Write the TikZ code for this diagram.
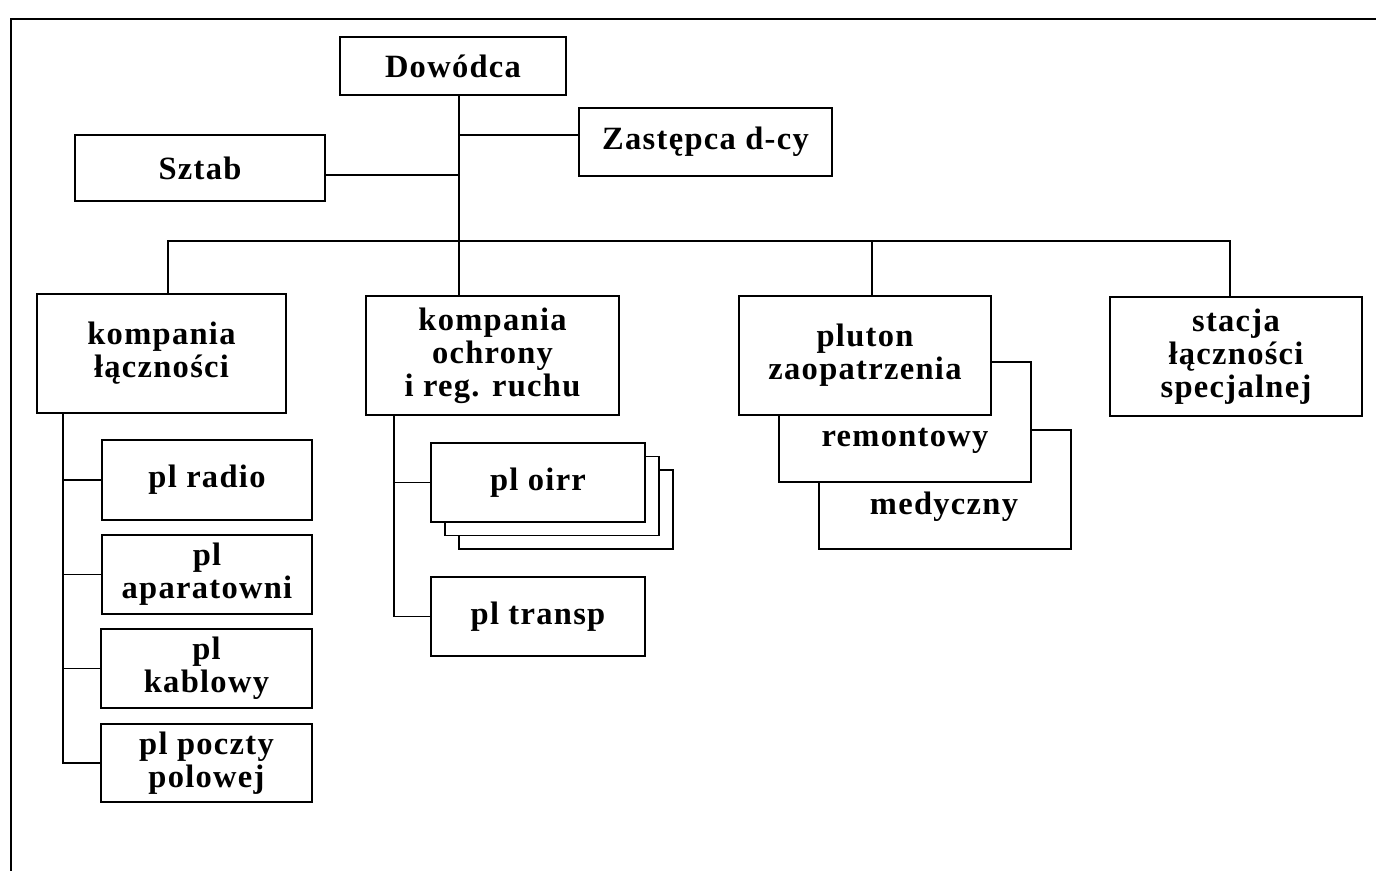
\documentclass[tikz,border=0pt]{standalone}
\usepackage{fontspec}
\setmainfont{Liberation Serif}[LetterSpace=4]
\begin{document}
\begin{tikzpicture}[x=0.02cm,y=-0.02cm,
  txt/.style={align=center, inner sep=0pt, font=\bfseries\fontsize{18.5}{18.7}\selectfont},
  box/.style={txt, draw, line width=0.7pt, fill=white},
  conn/.style={line width=0.7pt},
  frame/.style={line width=1.4pt}]
\useasboundingbox (0,0) rectangle (1376,871);
% frame of the scan
\draw[frame] (1376,19) -- (11,19) -- (11,871);

% top level
\node[box, minimum width=4.52cm, minimum height=1.16cm] (dow) at (453,66) {Dowódca};
\node[box, minimum width=5.06cm, minimum height=1.36cm] (zas) at (705.5,142) {Zastępca d-cy};
\node[box, minimum width=5.00cm, minimum height=1.32cm] (szt) at (200,168) {Sztab};

% second level
\node[box, minimum width=4.98cm, minimum height=2.38cm] (kl) at (161.5,353.5) {kompania\\łączności};
\node[box, minimum width=5.06cm, minimum height=2.38cm] (ko) at (492.5,355.5) {kompania\\ochrony\\i reg. ruchu};
\node[box, minimum width=5.04cm, minimum height=2.38cm] (med) at (945,489.5) {};
\node[box, minimum width=5.04cm, minimum height=2.40cm] (rem) at (905,422) {};
\node[box, minimum width=5.04cm, minimum height=2.38cm] (plu) at (865,355.5) {pluton\\zaopatrzenia};
\node[txt] (remt) at (905,441) {remontowy};
\node[txt] (medt) at (944,507) {medyczny};
\node[box, minimum width=5.04cm, minimum height=2.38cm] (sta) at (1236,356.5) {stacja\\łączności\\specjalnej};

% left column
\node[box, minimum width=4.20cm, minimum height=1.60cm] (rad) at (207,480) {pl radio};
\node[box, minimum width=4.20cm, minimum height=1.58cm] (apa) at (207,574.5) {pl\\aparatowni};
\node[box, minimum width=4.22cm, minimum height=1.58cm] (kab) at (206.5,668.5) {pl\\kablowy};
\node[box, minimum width=4.22cm, minimum height=1.56cm] (poc) at (206.5,763) {pl poczty\\polowej};

% middle column
\node[box, minimum width=4.28cm, minimum height=1.58cm] (oirr3) at (566,509.5) {};
\node[box, minimum width=4.28cm, minimum height=1.58cm] (oirr2) at (552,496) {};
\node[box, minimum width=4.28cm, minimum height=1.58cm] (oirr) at (538,482.5) {pl oirr};
\node[box, minimum width=4.28cm, minimum height=1.58cm] (tra) at (538,616.5) {pl transp};

% connector coordinates
\coordinate (tr) at (459,0);
\coordinate (zj) at (459,135);
\coordinate (sj) at (459,175);
\coordinate (b1) at (168,241);
\coordinate (b3) at (872,241);
\coordinate (b4) at (1230,241);
\coordinate (lc) at (63,0);
\coordinate (mc) at (394,0);

% connectors
\draw[conn] (dow.south -| tr) -- (ko.north -| tr);
\draw[conn] (zj) -- (zj -| zas.west);
\draw[conn] (sj) -- (sj -| szt.east);
\draw[conn] (b1 |- kl.north) -- (b1) -- (b4) -- (b4 |- sta.north);
\draw[conn] (b3) -- (b3 |- plu.north);

\draw[conn] (lc |- kl.south) -- (lc |- poc.west) -- (poc.west);
\draw[conn] (lc |- rad.west) -- (rad.west);
\draw[conn] (lc |- apa.west) -- (apa.west);
\draw[conn] (lc |- kab.west) -- (kab.west);

\draw[conn] (mc |- ko.south) -- (mc |- tra.west) -- (tra.west);
\draw[conn] (mc |- oirr.west) -- (oirr.west);
\end{tikzpicture}
\end{document}
